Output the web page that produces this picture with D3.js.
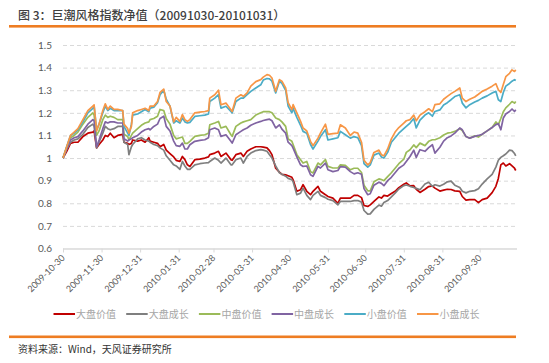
<!DOCTYPE html>
<html><head><meta charset="utf-8">
<script src="https://cdn.jsdelivr.net/npm/d3@7"></script>
<style>
body{margin:0;background:#fff;}
svg{display:block;}
</style></head>
<body>
<svg id="c" width="549" height="363"></svg>
<script>
const dates = ["2009-10-30","2009-11-02","2009-11-05","2009-11-08","2009-11-11","2009-11-15","2009-11-19","2009-11-23","2009-11-24","2009-11-26","2009-11-28","2009-12-01","2009-12-03","2009-12-05","2009-12-07","2009-12-10","2009-12-13","2009-12-17","2009-12-18","2009-12-21","2009-12-22","2009-12-24","2009-12-25","2009-12-29","2010-01-01","2010-01-04","2010-01-07","2010-01-08","2010-01-11","2010-01-14","2010-01-16","2010-01-19","2010-01-21","2010-01-24","2010-01-27","2010-01-29","2010-02-01","2010-02-03","2010-02-05","2010-02-07","2010-02-09","2010-02-13","2010-02-17","2010-02-21","2010-02-24","2010-02-25","2010-03-01","2010-03-04","2010-03-06","2010-03-10","2010-03-14","2010-03-15","2010-03-18","2010-03-22","2010-03-24","2010-03-27","2010-03-30","2010-04-03","2010-04-07","2010-04-09","2010-04-12","2010-04-14","2010-04-16","2010-04-19","2010-04-22","2010-04-24","2010-04-27","2010-04-29","2010-05-02","2010-05-03","2010-05-06","2010-05-09","2010-05-11","2010-05-14","2010-05-17","2010-05-19","2010-05-23","2010-05-25","2010-05-29","2010-05-31","2010-06-04","2010-06-08","2010-06-10","2010-06-14","2010-06-18","2010-06-21","2010-06-24","2010-06-27","2010-06-29","2010-07-02","2010-07-04","2010-07-07","2010-07-11","2010-07-13","2010-07-15","2010-07-18","2010-07-21","2010-07-24","2010-07-27","2010-07-31","2010-08-02","2010-08-05","2010-08-08","2010-08-10","2010-08-13","2010-08-17","2010-08-20","2010-08-23","2010-08-25","2010-08-29","2010-09-01","2010-09-04","2010-09-07","2010-09-10","2010-09-14","2010-09-16","2010-09-19","2010-09-22","2010-09-26","2010-09-29","2010-10-02","2010-10-06","2010-10-10","2010-10-13","2010-10-15","2010-10-17","2010-10-19","2010-10-21","2010-10-24","2010-10-26","2010-10-28","2010-10-29"];

const largeValue = [1.00,1.03,1.065,1.07,1.07,1.095,1.11,1.115,1.12,1.045,1.06,1.08,1.10,1.095,1.11,1.09,1.10,1.105,1.07,1.065,1.06,1.065,1.08,1.075,1.08,1.07,1.09,1.075,1.07,1.065,1.05,1.06,1.035,1.02,1.005,0.99,0.985,1.007,0.993,0.97,0.963,0.993,0.995,1.0,1.005,1.015,1.022,1.03,1.007,1.022,0.993,0.99,1.015,1.022,1.007,1.03,1.04,1.05,1.05,1.048,1.045,1.033,1.015,0.955,0.938,0.928,0.926,0.922,0.915,0.904,0.853,0.86,0.882,0.853,0.838,0.853,0.875,0.853,0.838,0.83,0.823,0.80,0.823,0.823,0.823,0.835,0.835,0.825,0.79,0.786,0.793,0.808,0.828,0.823,0.835,0.832,0.843,0.853,0.869,0.884,0.89,0.877,0.878,0.862,0.848,0.862,0.874,0.877,0.867,0.854,0.858,0.862,0.861,0.855,0.853,0.83,0.814,0.816,0.816,0.803,0.816,0.823,0.847,0.875,0.91,0.97,0.978,0.965,0.975,0.965,0.955,0.945];

const largeGrowth = [1.00,1.04,1.07,1.08,1.085,1.105,1.135,1.15,1.14,1.045,1.07,1.11,1.14,1.13,1.125,1.13,1.14,1.14,1.07,1.06,1.015,1.05,1.06,1.085,1.09,1.08,1.075,1.07,1.06,1.055,1.045,1.035,1.01,0.99,0.97,0.965,0.95,0.985,0.965,0.95,0.95,0.97,0.975,0.978,0.98,0.985,1.0,0.99,0.978,1.0,0.97,0.97,0.993,1.0,0.978,1.007,1.022,1.033,1.037,1.035,1.03,1.015,1.0,0.965,0.935,0.928,0.92,0.91,0.904,0.895,0.838,0.845,0.867,0.835,0.816,0.835,0.853,0.835,0.825,0.818,0.812,0.793,0.808,0.808,0.808,0.812,0.812,0.805,0.768,0.752,0.753,0.773,0.792,0.787,0.803,0.812,0.828,0.845,0.863,0.878,0.881,0.875,0.87,0.866,0.86,0.885,0.893,0.875,0.882,0.876,0.884,0.895,0.898,0.88,0.87,0.853,0.846,0.853,0.856,0.864,0.885,0.908,0.928,0.96,0.99,1.003,1.01,1.018,1.035,1.033,1.02,1.01];

const midValue = [1.00,1.05,1.09,1.10,1.115,1.15,1.18,1.20,1.19,1.10,1.12,1.17,1.19,1.18,1.185,1.18,1.17,1.17,1.105,1.095,1.08,1.10,1.11,1.13,1.145,1.155,1.16,1.17,1.175,1.185,1.215,1.21,1.175,1.15,1.10,1.085,1.09,1.093,1.065,1.065,1.074,1.096,1.10,1.103,1.11,1.147,1.155,1.162,1.133,1.14,1.103,1.096,1.14,1.155,1.16,1.165,1.17,1.19,1.20,1.205,1.206,1.205,1.20,1.177,1.17,1.16,1.14,1.085,1.074,1.06,1.015,0.993,0.978,0.985,0.94,0.934,0.978,0.97,0.993,0.963,0.956,0.956,0.97,0.968,0.948,0.955,0.955,0.936,0.88,0.855,0.855,0.895,0.908,0.905,0.90,0.918,0.935,0.955,0.975,0.995,1.025,1.037,1.058,1.046,1.066,1.055,1.074,1.081,1.081,1.09,1.102,1.11,1.113,1.118,1.13,1.122,1.095,1.088,1.098,1.093,1.105,1.12,1.135,1.16,1.148,1.175,1.205,1.222,1.238,1.25,1.243,1.25];

const midGrowth = [1.00,1.04,1.08,1.09,1.095,1.12,1.15,1.17,1.165,1.05,1.08,1.13,1.16,1.155,1.16,1.16,1.155,1.155,1.085,1.075,1.08,1.085,1.09,1.10,1.115,1.125,1.13,1.125,1.14,1.15,1.175,1.185,1.14,1.12,1.075,1.055,1.052,1.066,1.04,1.04,1.059,1.074,1.078,1.081,1.09,1.125,1.133,1.125,1.096,1.103,1.074,1.066,1.103,1.118,1.125,1.133,1.145,1.155,1.162,1.166,1.17,1.172,1.165,1.133,1.147,1.128,1.11,1.07,1.055,1.044,1.005,0.97,0.963,0.965,0.926,0.919,0.963,0.956,0.978,0.948,0.94,0.945,0.962,0.96,0.94,0.93,0.935,0.928,0.865,0.838,0.842,0.88,0.893,0.888,0.878,0.90,0.915,0.935,0.955,0.97,0.985,1.007,1.035,1.003,1.037,1.03,1.046,1.059,1.022,1.048,1.075,1.09,1.098,1.11,1.133,1.125,1.095,1.088,1.096,1.10,1.105,1.12,1.135,1.148,1.152,1.125,1.177,1.195,1.206,1.217,1.206,1.214];

const smallValue = [1.00,1.05,1.10,1.11,1.125,1.16,1.20,1.22,1.23,1.125,1.15,1.20,1.23,1.21,1.22,1.21,1.21,1.21,1.14,1.11,1.10,1.15,1.19,1.195,1.205,1.215,1.205,1.22,1.225,1.245,1.28,1.30,1.26,1.23,1.155,1.165,1.155,1.177,1.16,1.155,1.158,1.184,1.187,1.19,1.195,1.25,1.265,1.28,1.221,1.229,1.206,1.20,1.25,1.265,1.265,1.28,1.295,1.31,1.324,1.345,1.352,1.35,1.34,1.288,1.34,1.33,1.30,1.23,1.20,1.22,1.18,1.145,1.118,1.11,1.06,1.04,1.075,1.095,1.125,1.08,1.085,1.09,1.118,1.103,1.088,1.095,1.09,1.055,0.975,0.96,0.97,1.013,1.022,1.005,1.0,1.025,1.07,1.09,1.11,1.13,1.14,1.155,1.175,1.133,1.168,1.19,1.20,1.185,1.206,1.213,1.235,1.245,1.258,1.272,1.28,1.243,1.222,1.236,1.248,1.255,1.265,1.275,1.288,1.295,1.258,1.25,1.29,1.318,1.33,1.34,1.347,1.343];

const smallGrowth = [1.00,1.05,1.10,1.115,1.13,1.17,1.21,1.23,1.235,1.12,1.15,1.21,1.24,1.215,1.23,1.215,1.215,1.21,1.15,1.13,1.11,1.14,1.20,1.21,1.215,1.22,1.21,1.23,1.23,1.25,1.29,1.305,1.25,1.23,1.16,1.18,1.162,1.192,1.17,1.162,1.17,1.20,1.203,1.206,1.21,1.265,1.28,1.30,1.236,1.243,1.214,1.206,1.265,1.28,1.273,1.288,1.318,1.338,1.347,1.358,1.369,1.366,1.354,1.295,1.347,1.34,1.31,1.245,1.214,1.236,1.20,1.162,1.133,1.12,1.074,1.055,1.088,1.11,1.15,1.105,1.108,1.11,1.147,1.133,1.10,1.115,1.11,1.07,0.99,0.97,0.98,1.025,1.035,1.015,1.01,1.04,1.085,1.115,1.135,1.155,1.165,1.17,1.19,1.165,1.19,1.205,1.218,1.205,1.236,1.24,1.26,1.273,1.285,1.295,1.31,1.265,1.25,1.26,1.27,1.282,1.295,1.305,1.318,1.329,1.302,1.29,1.325,1.36,1.375,1.39,1.383,1.39];

const seriesNames = ["大盘价值","大盘成长","中盘价值","中盘成长","小盘价值","小盘成长"];
const seriesColors = ["#c00000","#7f7f7f","#9bbb59","#8064a2","#4bacc6","#f79646"];
const yTicks = [0.6,0.7,0.8,0.9,1,1.1,1.2,1.3,1.4,1.5];
const xTickLabels = ["2009-10-30","2009-11-30","2009-12-31","2010-01-31","2010-02-28","2010-03-31","2010-04-30","2010-05-31","2010-06-30","2010-07-31","2010-08-31","2010-09-30"];
const titleText = "图 3：巨潮风格指数净值（20091030-20101031）";
const sourceText = "资料来源：Wind，天风证券研究所";

const allValues = [largeValue, largeGrowth, midValue, midGrowth, smallValue, smallGrowth];
const parse = d3.timeParse("%Y-%m-%d");
const dts = dates.map(parse);

const svg = d3.select("#c");
const pL = 63, pR = 517, pT = 45, pB = 248.5;

const x = d3.scaleTime().domain([parse("2009-10-30"), parse("2010-10-30")]).range([pL, pR]);
const y = d3.scaleLinear().domain([0.6, 1.5]).range([pB, pT]);

// title
svg.append("text").attr("x", 18).attr("y", 20)
  .attr("font-family", "'Noto Sans CJK SC', sans-serif").attr("font-size", 12).attr("font-weight", 500)
  .attr("fill", "#404040").text(titleText);
svg.append("rect").attr("x", 9).attr("y", 25).attr("width", 507).attr("height", 2.6).attr("fill", "#ee7d22");

// grid lines
const gy = svg.append("g").attr("transform", `translate(${pL},0)`)
  .call(d3.axisLeft(y).tickValues(yTicks).tickSize(-(pR - pL)).tickFormat(d3.format("~g")).tickPadding(11));
gy.select(".domain").remove();
gy.selectAll(".tick line").attr("stroke", "#d9d9d9").attr("stroke-width", 1)
  .attr("stroke-dasharray", d => d === 0.6 ? null : "4,3");
gy.selectAll(".tick text").attr("fill", "#595959").attr("font-size", 10)
  .attr("font-family", "Lato, 'Open Sans', sans-serif");

// x axis
const gx = svg.append("g").attr("transform", `translate(0,${pB})`)
  .call(d3.axisBottom(x).tickValues(xTickLabels.map(parse)).tickSize(4).tickFormat(d3.timeFormat("%Y-%m-%d")));
gx.select(".domain").attr("stroke", "#d9d9d9").attr("d", `M${pL},0.5H${pR}`);
gx.selectAll(".tick line").attr("stroke", "#d9d9d9");
gx.selectAll(".tick text").attr("fill", "#595959").attr("font-size", 9)
  .attr("font-family", "Lato, 'Open Sans', sans-serif")
  .attr("text-anchor", "end").attr("dy", 0).attr("y", 0)
  .attr("transform", "translate(2,10) rotate(-45)");

// lines
const line = d3.line().x((d, i) => x(dts[i])).y(d => y(d));
allValues.forEach((vals, k) => {
  svg.append("path").datum(vals).attr("d", line)
    .attr("fill", "none").attr("stroke", seriesColors[k]).attr("stroke-width", 1.7)
    .attr("stroke-linejoin", "round");
});

// legend
const lg = svg.append("g");
seriesNames.forEach((n, i) => {
  const lx = 53.5 + i * 72.7;
  lg.append("line").attr("x1", lx).attr("x2", lx + 21.5).attr("y1", 314).attr("y2", 314)
    .attr("stroke", seriesColors[i]).attr("stroke-width", 2);
  lg.append("text").attr("x", lx + 22.5).attr("y", 317.5)
    .attr("font-family", "'Noto Sans CJK SC', sans-serif").attr("font-size", 10)
    .attr("fill", "#a6a6a6").text(n);
});

// source
svg.append("rect").attr("x", 9).attr("y", 335.5).attr("width", 507).attr("height", 2.6).attr("fill", "#ee7d22");
svg.append("text").attr("x", 18).attr("y", 352.5)
  .attr("font-family", "'Noto Sans CJK SC', sans-serif").attr("font-size", 10)
  .attr("fill", "#333333").text(sourceText);
</script>
</body></html>
